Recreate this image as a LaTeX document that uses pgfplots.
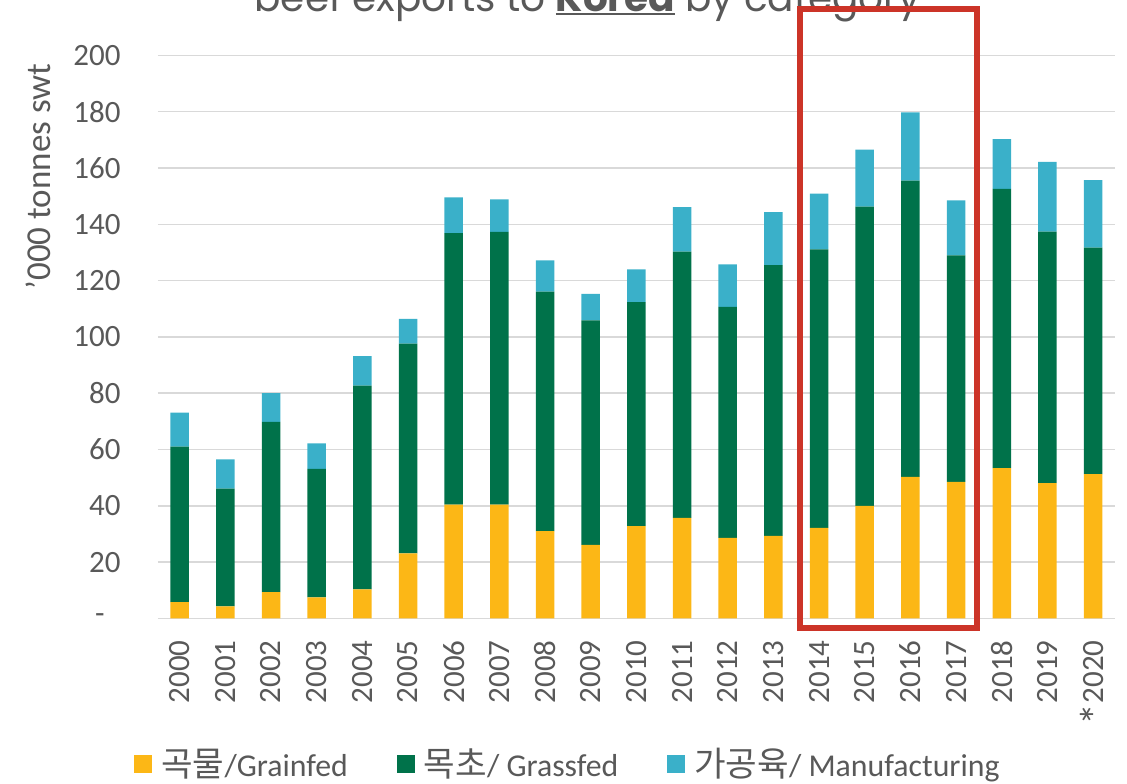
\documentclass[border=0pt]{standalone}
\usepackage{fontspec}
\setmainfont{Carlito}
\newfontfamily\kr[Scale=1.08]{Noto Sans CJK KR}
\newfontfamily\titlefont{Poppins}
\usepackage{pgfplots}
\usepackage{pgfplotstable}
\pgfplotsset{compat=1.18}
\definecolor{grain}{RGB}{252,183,22}
\definecolor{grass}{RGB}{0,114,74}
\definecolor{manu}{RGB}{58,176,201}
\definecolor{txt}{RGB}{89,89,89}
\definecolor{gridc}{RGB}{217,217,217}
\definecolor{redbox}{RGB}{204,52,40}
\newcommand\ul[1]{\setbox0=\hbox{#1}\rlap{\rule[-1.6pt]{\wd0}{1.3pt}}\box0\relax}

\pgfplotstableread{
x year grain grass manu
0  2000 5.8  55.2 12.1
1  2001 4.3  41.8 10.4
2  2002 9.3  60.5 10.2
3  2003 7.5  45.6 9.1
4  2004 10.3 72.4 10.5
5  2005 23.1 74.5 8.8
6  2006 40.4 96.5 12.7
7  2007 40.4 96.9 11.6
8  2008 31.0 85.1 11.1
9  2009 26.1 79.8 9.4
10 2010 32.8 79.6 11.6
11 2011 35.7 94.6 15.8
12 2012 28.6 82.1 15.1
13 2013 29.3 96.2 18.8
14 2014 32.2 98.9 19.8
15 2015 40.0 106.3 20.2
16 2016 50.3 105.2 24.3
17 2017 48.5 80.5 19.5
18 2018 53.4 99.2 17.7
19 2019 48.1 89.3 24.8
20 2020 51.3 80.4 24.0
}\data

\begin{document}
\begin{tikzpicture}
\begin{axis}[
  at={(0pt,0pt)}, anchor=south west,
  scale only axis, width=478.5pt, height=281.5pt,
  ybar stacked, bar width=9.25pt,
  xmin=-0.475, xmax=20.48, ymin=0, ymax=200,
  axis line style={draw=none},
  ymajorgrids, grid style={draw=gridc, line width=0.75pt},
  major tick length=0pt,
  ytick={0,20,...,200},
  yticklabels={{-\hspace*{8pt}},20,40,60,80,100,120,140,160,180,200},
  xtick={0,...,20},
  xticklabels={2000,2001,2002,2003,2004,2005,2006,2007,2008,2009,2010,2011,2012,2013,2014,2015,2016,2017,2018,2019,{\smash{\raisebox{-4pt}{\fontsize{22}{22}\selectfont*}}2020}},
  xticklabel style={rotate=90, anchor=east, inner sep=0pt, font=\fontsize{15.5}{18}\selectfont, text=txt},
  xticklabel shift=10.8pt,
  yticklabel style={anchor=east, inner sep=0pt, font=\fontsize{15.5}{18}\selectfont, text=txt},
  yticklabel shift=18.5pt,
  ylabel={’000 tonnes swt},
  ylabel style={at={(axis description cs:-0.1254,0.785)}, anchor=center, rotate=0, inner sep=0pt, font=\fontsize{17.5}{20}\selectfont, text=txt},
  clip=false,
  legend columns=3,
  legend image code/.code={\fill[#1] (0pt,-4.5pt) rectangle (9pt,4.5pt);},
  legend style={at={(axis description cs:0,0)}, anchor=west, xshift=-12pt, yshift=-72.8pt,
    draw=none, fill=none, inner sep=0pt, font=\fontsize{15.9}{19}\selectfont, text=txt,
    /tikz/every odd column/.append style={column sep=4pt},
    /tikz/every even column/.append style={column sep=24pt},
    nodes={inner sep=0.5pt}},
]
\addplot[fill=grain, draw=none] table[x=x, y=grain]{\data};
\addlegendentry{{\kr 곡물}/Grainfed}
\addplot[fill=grass, draw=none] table[x=x, y=grass]{\data};
\addlegendentry{{\kr 목초}/ Grassfed}
\addplot[fill=manu, draw=none] table[x=x, y=manu]{\data};
\addlegendentry{{\kr 가공육}/ Manufacturing}
\draw[redbox, line width=3pt] (axis cs:13.584,-3.4) rectangle (axis cs:17.453,216.5);
\node[anchor=base, inner sep=0pt, font=\titlefont\fontsize{19.5}{22}\selectfont, text=txt]
  at (axis description cs:0.4488,1.0771) {beef exports to \ul{\textbf{Korea}} by category};
\end{axis}
\pgfresetboundingbox
\useasboundingbox (-79pt,-82.3pt) rectangle (484.5pt,309.2pt);
\end{tikzpicture}
\end{document}
